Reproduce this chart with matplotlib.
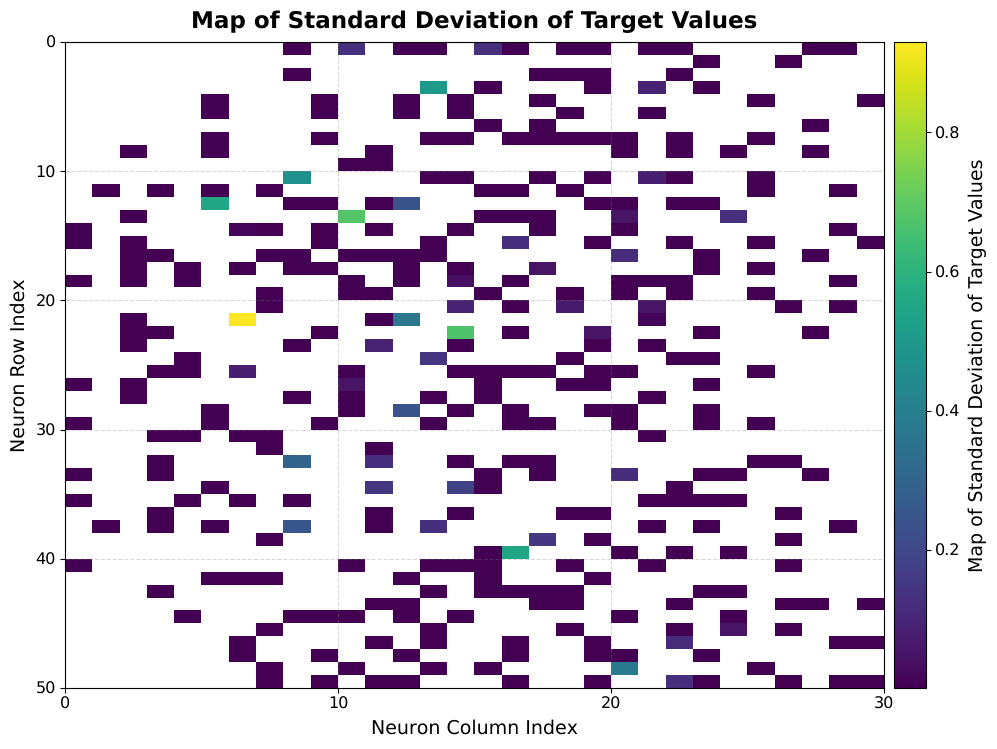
import numpy as np
import matplotlib
matplotlib.use("Agg")
import matplotlib.pyplot as plt

plt.rcParams["text.hinting"] = "no_hinting"
plt.rcParams["text.hinting_factor"] = 1

n_rows = 50
n_cols = 30

# columns holding a (near zero) value, one list per neuron row
row_cells = [
    [8, 10, 12, 13, 15, 16, 18, 19, 21, 22, 27, 28],
    [23, 26],
    [8, 17, 18, 19, 22],
    [13, 15, 19, 21, 23],
    [5, 9, 12, 14, 17, 25, 29],
    [5, 9, 12, 14, 18, 21],
    [15, 17, 27],
    [5, 9, 13, 14, 16, 17, 18, 19, 20, 22, 25],
    [2, 5, 11, 20, 22, 24, 27],
    [10, 11],
    [8, 13, 14, 17, 19, 21, 22, 25],
    [1, 3, 5, 7, 15, 16, 18, 25, 28],
    [5, 8, 9, 11, 12, 19, 20, 22, 23],
    [2, 10, 15, 16, 17, 20, 24],
    [0, 6, 7, 9, 11, 14, 17, 20, 28],
    [0, 2, 9, 13, 16, 19, 22, 25, 29],
    [2, 3, 7, 8, 10, 11, 12, 13, 20, 23, 27],
    [2, 4, 6, 8, 9, 12, 14, 17, 23, 25],
    [0, 2, 4, 10, 12, 14, 16, 20, 21, 22, 28],
    [7, 10, 11, 15, 18, 20, 22, 25],
    [7, 14, 16, 18, 21, 26, 28],
    [2, 6, 11, 12, 21],
    [2, 3, 9, 14, 16, 19, 23, 27],
    [2, 8, 11, 14, 19, 21],
    [4, 13, 18, 22, 23],
    [3, 4, 6, 10, 14, 15, 16, 17, 19, 20, 25],
    [0, 2, 10, 15, 18, 19, 23],
    [2, 8, 10, 13, 15, 21],
    [5, 10, 12, 14, 16, 19, 20, 23],
    [0, 5, 9, 13, 16, 17, 20, 23, 25],
    [3, 4, 6, 7, 21],
    [7, 11],
    [3, 8, 11, 14, 16, 17, 25, 26],
    [0, 3, 15, 17, 20, 23, 24, 27],
    [5, 11, 14, 15, 22],
    [0, 4, 6, 8, 21, 22, 23, 24],
    [3, 11, 14, 18, 19, 26],
    [1, 3, 5, 8, 11, 13, 21, 23, 28],
    [7, 17, 19, 26],
    [15, 16, 20, 22, 24],
    [0, 10, 13, 14, 15, 18, 21, 26],
    [5, 6, 7, 12, 15, 19],
    [3, 13, 15, 16, 17, 18, 23, 24],
    [11, 12, 17, 18, 22, 26, 27, 29],
    [4, 8, 9, 10, 12, 14, 20, 24],
    [7, 13, 18, 22, 24, 26],
    [6, 11, 13, 16, 19, 22, 28, 29],
    [6, 9, 12, 16, 19, 20, 23],
    [7, 10, 13, 15, 20, 25],
    [7, 9, 11, 12, 16, 19, 22, 23, 26, 28, 29],
]
base_value = 0.002

# cells with a clearly visible colour
bright_rows = [0, 0, 3, 3, 10, 10, 12, 12, 13, 13, 13, 14, 15, 16, 17, 18, 20, 20, 20, 21, 21,
               21, 22, 22, 23, 24, 25, 26, 28, 32, 32, 33, 34, 34, 37, 37, 38, 39, 45, 46, 48, 49]
bright_cols = [10, 15, 13, 21, 8, 21, 5, 12, 10, 20, 24, 6, 16, 20, 17, 14, 14, 18, 21, 6, 12,
               21, 14, 19, 11, 13, 6, 10, 12, 8, 11, 20, 11, 14, 8, 13, 17, 16, 24, 22, 20, 22]
bright_vals = [0.13, 0.13, 0.50, 0.09, 0.47, 0.08, 0.56, 0.24, 0.68, 0.05, 0.13, 0.02, 0.13, 0.12,
               0.05, 0.04, 0.09, 0.07, 0.05, 0.93, 0.37, 0.02, 0.67, 0.05, 0.09, 0.15, 0.08, 0.05,
               0.24, 0.30, 0.13, 0.12, 0.15, 0.18, 0.25, 0.13, 0.15, 0.55, 0.05, 0.12, 0.38, 0.13]

# Build the map, empty cells stay NaN
grid = np.full((n_rows, n_cols), np.nan)
for r, cells in enumerate(row_cells):
    grid[r, cells] = base_value
for r, c, v in zip(bright_rows, bright_cols, bright_vals):
    grid[r, c] = v

fig, ax = plt.subplots(figsize=(9.97, 7.49), dpi=100)
im = ax.imshow(grid, cmap="viridis", aspect="auto", extent=[0, n_cols, n_rows, 0])
ax.set_xticks([0, 10, 20, 30])
ax.set_yticks([0, 10, 20, 30, 40, 50])
ax.tick_params(labelsize=11.8, pad=3)
ax.grid(True, linestyle="--", color="gray", alpha=0.3)
ax.set_xlabel("Neuron Column Index", fontsize=13.7, labelpad=5)
ax.set_ylabel("Neuron Row Index", fontsize=13.7, labelpad=5)
ax.set_title("Map of Standard Deviation of Target Values", fontsize=16.9, fontweight="bold", pad=10)

# Colorbar on its own axes so it lines up with the map
ax.set_position([65 / 997, 1 - 688 / 749, 819 / 997, 646 / 749])
cax = fig.add_axes([894 / 997, 1 - 688 / 749, 32 / 997, 646 / 749])
cbar = fig.colorbar(im, cax=cax)
cbar.set_ticks([0.2, 0.4, 0.6, 0.8])
cbar.ax.tick_params(labelsize=11.8, pad=3)
cbar.set_label("Map of Standard Deviation of Target Values", fontsize=13.6, labelpad=6)

fig.savefig("out.png", dpi=100)
plt.close(fig)
